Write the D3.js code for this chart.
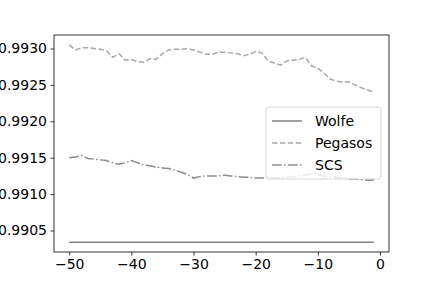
<!DOCTYPE html>
<html>
<head>
<meta charset="utf-8">
<script src="https://cdn.jsdelivr.net/npm/d3@7"></script>
<style>
  html, body { margin: 0; padding: 0; background: #fff; }
  svg { display: block; font-family: "DejaVu Sans", sans-serif; }
</style>
</head>
<body>
<div id="chart"></div>
<script>
const steps = d3.range(-50, 0);
const yTicks = [0.9905, 0.9910, 0.9915, 0.9920, 0.9925, 0.9930];
const xTicks = [-50, -40, -30, -20, -10, 0];

const wolfe = steps.map(() => 0.99034);
const pegasos = [
  0.99305, 0.99298, 0.99301, 0.99301, 0.99300, 0.99299, 0.99297, 0.99288, 0.99293, 0.99284,
  0.99285, 0.99282, 0.99281, 0.99286, 0.99285, 0.99293, 0.99298, 0.99299, 0.99299, 0.99300,
  0.99298, 0.99295, 0.99292, 0.99292, 0.99295, 0.99295, 0.99294, 0.99293, 0.99290, 0.99292,
  0.99296, 0.99294, 0.99283, 0.99280, 0.99277, 0.99283, 0.99284, 0.99285, 0.99288, 0.99276,
  0.99273, 0.99266, 0.99258, 0.99255, 0.99254, 0.99254, 0.99250, 0.99246, 0.99243, 0.99240
];
const scs = [
  0.99150, 0.99151, 0.99153, 0.99149, 0.99148, 0.99147, 0.99146, 0.99143, 0.99141, 0.99143,
  0.99146, 0.99143, 0.99140, 0.99139, 0.99137, 0.99136, 0.99135, 0.99133, 0.99130, 0.99127,
  0.99122, 0.99124, 0.99125, 0.99125, 0.99125, 0.99126, 0.99125, 0.99124, 0.99123, 0.99123,
  0.99122, 0.99122, 0.99123, 0.99122, 0.99122, 0.99123, 0.99124, 0.99125, 0.99126, 0.99128,
  0.99127, 0.99125, 0.99124, 0.99123, 0.99122, 0.99121, 0.99121, 0.99120, 0.99119, 0.99119
];

const series = [
  { name: 'Wolfe', values: wolfe, color: '#808080', dash: null },
  { name: 'Pegasos', values: pegasos, color: '#a8a8a8', dash: '5.5,2.4' },
  { name: 'SCS', values: scs, color: '#8a8a8a', dash: '9.6,2.4,1.5,2.4' }
];

const width = 432, height = 288;
const margin = { left: 54, right: 43, top: 35, bottom: 36 };

const svg = d3.select('#chart').append('svg')
    .attr('width', width)
    .attr('height', height);

// matplotlib-like 5% padding on data range
const xPad = (d3.max(steps) - d3.min(steps)) * 0.05;
const x = d3.scaleLinear()
    .domain([d3.min(steps) - xPad, d3.max(steps) + xPad])
    .range([margin.left, width - margin.right]);

const allVals = series.flatMap(s => s.values);
const yPad = (d3.max(allVals) - d3.min(allVals)) * 0.05;
const y = d3.scaleLinear()
    .domain([d3.min(allVals) - yPad, d3.max(allVals) + yPad])
    .range([height - margin.bottom, margin.top]);

// Lines
const line = d3.line()
    .x((d, i) => x(steps[i]))
    .y(d => y(d));

svg.append('g')
    .selectAll('path')
    .data(series)
    .join('path')
    .attr('fill', 'none')
    .attr('stroke', d => d.color)
    .attr('stroke-width', 1.5)
    .attr('stroke-dasharray', d => d.dash)
    .attr('d', d => line(d.values));

// Axes
const fmtX = v => v < 0 ? '\u2212' + Math.abs(v) : String(v);
const xAxis = svg.append('g')
    .attr('transform', `translate(0,${height - margin.bottom})`)
    .call(d3.axisBottom(x).tickValues(xTicks).tickFormat(fmtX).tickSize(3.5).tickPadding(3.5));

const yAxis = svg.append('g')
    .attr('transform', `translate(${margin.left},0)`)
    .call(d3.axisLeft(y).tickValues(yTicks).tickFormat(d3.format('.4f')).tickSize(3.5).tickPadding(3.5));

[xAxis, yAxis].forEach(a => {
    a.selectAll('path.domain').remove();
    a.selectAll('.tick line').attr('stroke', '#000').attr('stroke-width', 0.8);
    a.selectAll('.tick text').attr('fill', '#000').style('font-size', '14px')
        .style('font-family', '"DejaVu Sans", sans-serif');
});

// Frame
svg.append('rect')
    .attr('x', margin.left)
    .attr('y', margin.top)
    .attr('width', width - margin.left - margin.right)
    .attr('height', height - margin.top - margin.bottom)
    .attr('fill', 'none')
    .attr('stroke', '#000')
    .attr('stroke-width', 0.8);

// Legend
const lg = svg.append('g').attr('transform', 'translate(266,107)');
lg.append('rect')
    .attr('width', 115)
    .attr('height', 72)
    .attr('rx', 3)
    .attr('fill', 'rgba(255,255,255,0.8)')
    .attr('stroke', '#cccccc')
    .attr('stroke-width', 0.8);

const item = lg.selectAll('g.item')
    .data(series)
    .join('g')
    .attr('class', 'item')
    .attr('transform', (d, i) => `translate(0,${14 + i * 22})`);

item.append('line')
    .attr('x1', 6).attr('x2', 36)
    .attr('stroke', d => d.color)
    .attr('stroke-width', 1.5)
    .attr('stroke-dasharray', d => d.dash);

item.append('text')
    .attr('x', 49)
    .attr('dy', '0.36em')
    .style('font-size', '14px')
    .text(d => d.name);
</script>
</body>
</html>
